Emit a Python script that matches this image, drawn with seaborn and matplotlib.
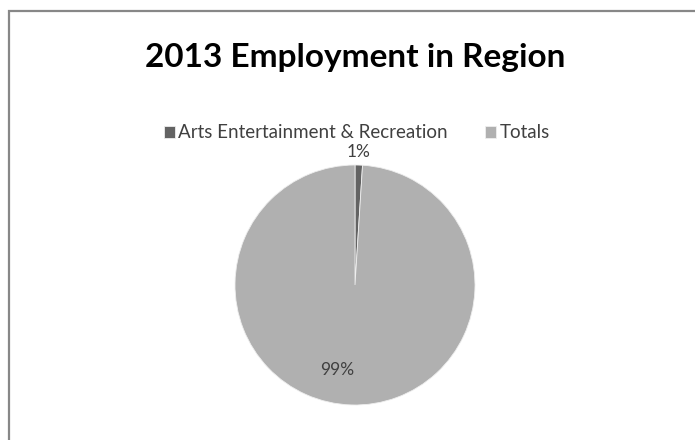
import matplotlib
matplotlib.use("Agg")
import matplotlib.pyplot as plt
from matplotlib.patches import Rectangle
import numpy as np
import seaborn as sns

# Share of 2013 employment in the region (percent)
categories = ["Arts Entertainment & Recreation", "Totals"]
shares = [1.0, 99.0]
slice_colors = ["#636363", "#b0b0b0"]

sns.set_theme(style="white")
plt.rcParams["font.family"] = ["Lato", "DejaVu Sans"]

W, H = 695, 440
fig = plt.figure(figsize=(W / 100, H / 100), dpi=100)
fig.patch.set_facecolor("white")

# outer chart frame (runs off the right and bottom edges)
fig.patches.append(Rectangle((8.5 / W, -0.05), 1.2, 1 - 11.5 / H + 0.05,
                             transform=fig.transFigure, fill=False,
                             edgecolor="#878787", linewidth=1.6))

cx, cy, r = 355, 285, 120
ax = fig.add_axes([(cx - r) / W, (H - cy - r) / H, 2 * r / W, 2 * r / H])

wedges, texts, autotexts = ax.pie(
    shares, colors=slice_colors, startangle=90, counterclock=False,
    radius=1, autopct="%.0f%%", pctdistance=0.72,
    wedgeprops=dict(linewidth=0.6, edgecolor="#eeeeee"),
    textprops=dict(color="#404040", fontsize=12.5))
ax.set_xlim(-1, 1)
ax.set_ylim(-1, 1)
ax.set_aspect("equal")
ax.axis("off")

# place the value labels: small slice outside, large slice inside
label_pos = [(0.03, 1.11), (-0.15, -0.71)]
for t, (x, y) in zip(autotexts, label_pos):
    t.set_position((x, y))
    t.set_ha("center")
    t.set_va("center")
    t.set_clip_on(False)

fig.text(cx / W, 1 - 57 / H, "2013 Employment in Region", ha="center",
         va="center", fontsize=24, fontweight="bold", color="black")

fig.legend(wedges, categories, loc="center", bbox_to_anchor=(357 / W, 1 - 133 / H),
           ncol=2, frameon=False, fontsize=13.5, handlelength=0.55, handleheight=0.55,
           handletextpad=0.2, columnspacing=2.0, labelcolor="#404040")

fig.savefig("out.png", dpi=100, facecolor="white")
